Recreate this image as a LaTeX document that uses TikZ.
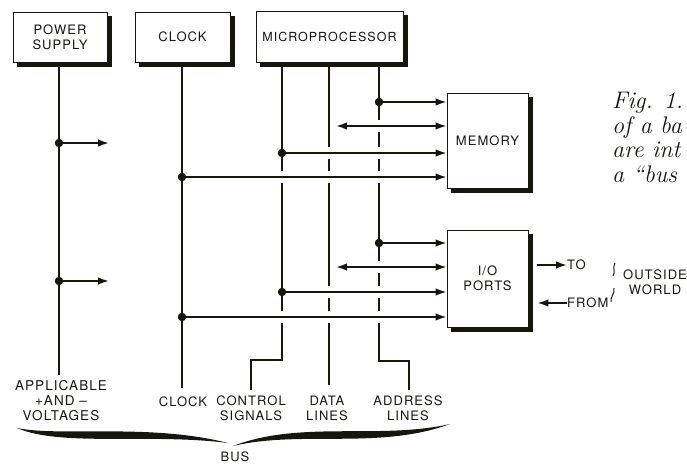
\documentclass[tikz,border=0pt]{standalone}
\usepackage{fontspec}
\usetikzlibrary{arrows.meta,positioning,calc,backgrounds}
\newfontfamily\lblfont[LetterSpace=8]{TeX Gyre Heros}
\definecolor{Ink}{HTML}{16160F}
\tikzset{
  >={Latex[length=11pt,width=7.5pt]},
  blk/.style={draw=Ink,line width=.8pt,fill=white,align=center,inner sep=0pt,text=Ink,
    font=\lblfont\fontsize{13}{15}\selectfont},
  bus/.style={draw=Ink,line width=1.7pt},
  feed/.style={bus,->},
  duplex/.style={bus,<->,shorten <=7pt},
  jn/.style={circle,fill=Ink,inner sep=0pt,minimum size=8.5pt},
  lab/.style={font=\lblfont\fontsize{13}{15}\selectfont,align=center,inner sep=0pt,text=Ink},
  figcap/.style={font=\itshape\fontsize{24}{24.5}\selectfont,
    align=left,inner sep=0pt,text=Ink}
}
\begin{document}
\begin{tikzpicture}[x=1pt,y=-1pt]
  \useasboundingbox (0,0) rectangle (687,464);
  % functional units
  \node[blk,minimum width=94pt,minimum height=50pt] (psu) at (60,37) {POWER\\SUPPLY};
  \node[blk,minimum width=95pt,minimum height=50pt] (clk) at (182.5,37) {CLOCK};
  \node[blk,minimum width=147pt,minimum height=51pt,font=\lblfont\fontsize{12.5}{15}\selectfont] (cpu) at (329.5,36.5) {MICROPROCESSOR};
  \node[blk,minimum width=81pt,minimum height=95pt] (mem) at (487.5,140.5) {MEMORY};
  \node[blk,minimum width=81pt,minimum height=97pt] (io) at (487.5,278.5) {I/O\\PORTS};
  \begin{scope}[on background layer]
    \foreach \b in {psu,clk,cpu,mem,io}
      \fill[Ink] ([shift={(4.5,4.5)}]\b.south west) rectangle ([shift={(4.5,4.5)}]\b.north east);
  \end{scope}

  % bus lines
  \coordinate (pwrEnd) at (59,375);
  \coordinate (clkEnd) at (182,388);
  \coordinate (ctl) at (282,360);
  \coordinate (ctlEnd) at (251,390);
  \coordinate (datEnd) at (329,385);
  \coordinate (adr) at (379,361);
  \coordinate (adrEnd) at (409,390);
  \draw[bus] (psu.south -| pwrEnd) -- (pwrEnd);
  \draw[bus] (clk.south -| clkEnd) -- (clkEnd);
  % broken where another line crosses
  \draw[bus] (cpu.south -| ctl) -- (ctl |- 0,171);
  \draw[bus] (ctl |- 0,183) -- (ctl |- 0,311);
  \draw[bus] (ctl |- 0,323) -- (ctl) -| (ctlEnd);
  \draw[bus] (cpu.south -| datEnd) -- (datEnd |- 0,147);
  \foreach \a/\b in {159/171,183/286,298/311}
    \draw[bus] (datEnd |- 0,\a) -- (datEnd |- 0,\b);
  \draw[bus] (datEnd |- 0,323) -- (datEnd);
  \draw[bus] (cpu.south -| adr) -- (adr |- 0,120);
  \foreach \a/\b in {132/147,159/171,183/261,273/286,298/311}
    \draw[bus] (adr |- 0,\a) -- (adr |- 0,\b);
  \draw[bus] (adr |- 0,323) -- (adr) -| (adrEnd);

  % taps to memory and i/o
  \foreach \u/\ya/\yd/\yc/\yk in {mem/102/126/153/177, io/243/267/292/317}{
    \coordinate (\u A) at (379,\ya);
    \coordinate (\u D) at (329,\yd);
    \coordinate (\u C) at (282,\yc);
    \coordinate (\u K) at (182,\yk);
    \draw[feed] (\u A) -- (\u A -| \u.west);
    \draw[duplex] (\u D) -- (\u D -| \u.west);
    \draw[feed] (\u C) -- (\u C -| \u.west);
    \draw[feed] (\u K) -- (\u K -| \u.west);
    \foreach \t in {A,C,K} \node[jn] at (\u\t) {};
  }
  % supply taps
  \foreach \y in {143,281}{
    \coordinate (pwr\y) at (59,\y);
    \coordinate (pwrOut\y) at (109,\y);
    \draw[feed] (pwr\y) -- (pwrOut\y);
    \node[jn] at (pwr\y) {};
  }

  % outside world
  \node[lab,anchor=west] (to) at (567,265) {TO};
  \node[lab,anchor=west] (from) at (567,303) {FROM};
  \draw[feed,shorten <=9pt] (io.east |- to) -- (to.west);
  \draw[bus,<-,shorten <=9pt] (io.east |- from) -- (from.west);
  \draw[Ink,line width=1pt] (615,263) .. controls (612,268) and (616,272) .. (613,276);
  \draw[Ink,line width=1pt] (614,288) .. controls (615,294) and (610,297) .. (611,302);
  \node[lab] (world) at (655,282.5) {OUTSIDE\\WORLD};

  % bus labels
  \node[lab,font=\lblfont\fontsize{13.5}{15}\selectfont] (lblPwr) at (61,401) {APPLICABLE\\+AND –\\VOLTAGES};
  \node[lab] (lblClk) at (183,402) {CLOCK};
  \node[lab] (lblCtl) at (251,408.5) {CONTROL\\SIGNALS};
  \node[lab] (lblDat) at (327,408.5) {DATA\\LINES};
  \node[lab] (lblAdr) at (408,408.5) {ADDRESS\\LINES};

  % bus brace
  \fill[Ink] (17,428) .. controls (60,437) and (150,423) .. (228,443)
    .. controls (150,433) and (60,447) .. (17,428);
  \fill[Ink] (233,446) .. controls (300,420) and (380,440) .. (450,424)
    .. controls (380,450) and (300,430) .. (233,446);
  \node[lab] (lblBus) at (235,457) {BUS};

  % caption
  \node[figcap,anchor=north west] (fig) at (612,92) {Fig. 1.\\of a ba\\are int\\a “bus};
\end{tikzpicture}
\end{document}
